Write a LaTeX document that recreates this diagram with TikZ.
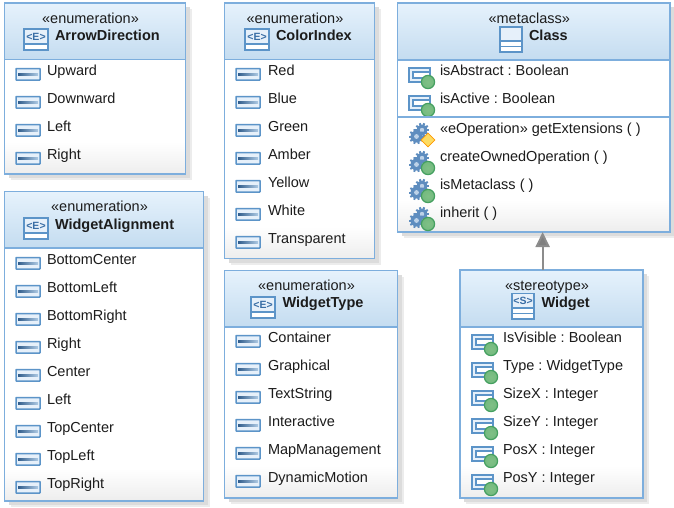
\documentclass[tikz,border=0pt]{standalone}
\usepackage{fontspec}
\setmainfont{Liberation Sans}
\usetikzlibrary{arrows.meta,calc,shapes.geometric}
\frenchspacing
\definecolor{edgeblue}{HTML}{7DAEDD}
\definecolor{headtop}{HTML}{E6F2FC}
\definecolor{headbot}{HTML}{C4DCF0}
\definecolor{iconblue}{HTML}{5C94C8}
\definecolor{iconfill}{HTML}{E6F0FA}
\definecolor{iconink}{HTML}{3A6EA5}
\definecolor{ink}{HTML}{1C1C1C}
\definecolor{ballfill}{HTML}{7FC086}
\definecolor{balledge}{HTML}{45A060}
\definecolor{gearblue}{HTML}{5E8DBF}
\definecolor{shadowgrey}{HTML}{DCDCDC}
\tikzset{
  x=1pt,y=-1pt,
  labeltext/.style={anchor=base west,inner sep=0pt,outer sep=0pt,text=ink,font=\fontsize{14.5}{17}\selectfont},
  stereotext/.style={anchor=base,inner sep=0pt,outer sep=0pt,text=ink,font=\fontsize{14.5}{17}\selectfont},
  titletext/.style={anchor=base west,inner sep=0pt,outer sep=0pt,text=ink,font=\fontsize{14.5}{17}\selectfont\bfseries},
  boxframe/.style={draw=edgeblue,line width=1.5pt,inner sep=0pt,outer sep=0pt},
  iconbox/.style={draw=iconblue,line width=1.5pt,fill=iconfill},
  glyph/.style={inner sep=0pt,outer sep=0pt,text=iconink,font=\fontsize{10.5}{11}\selectfont\bfseries},
  genarrow/.style={draw=black!45,line width=2pt,-{Triangle[length=15pt,width=14pt,fill=black!50]}},
}
% name, x1, y1, x2, header bottom, y2, stereotype
\newcommand{\umlbox}[7]{%
  \pgfmathsetmacro{\cxx}{(#2+#4)/2}\pgfmathsetmacro{\cyy}{(#3+#6)/2}%
  \pgfmathsetmacro{\www}{#4-#2}\pgfmathsetmacro{\hhh}{#6-#3}%
  \fill[shadowgrey!55] (#2+6,#3+6) rectangle (#4+6,#6+6);
  \fill[shadowgrey] (#2+4,#3+4) rectangle (#4+4,#6+4);
  \fill[white] (#2,#3) rectangle (#4,#6);
  \shade[top color=white,bottom color=black!7] (#2,#6-32) rectangle (#4,#6);
  \shade[top color=headtop,bottom color=headbot] (#2,#3) rectangle (#4,#5);
  \draw[edgeblue,line width=1.2pt] (#2,#5) -- (#4,#5);
  \node[boxframe,minimum width=\www pt,minimum height=\hhh pt] (#1) at (\cxx,\cyy) {};
  \node[stereotext] (#1-st) at (\cxx-4.5,#3+20) {#7};
}
% box, icon x, y top, glyph
\newcommand{\enumicon}[4]{%
  \draw[iconbox] (#2,#3) rectangle (#2+24,#3+21);
  \draw[iconblue,line width=1.3pt,fill=white] (#2,#3+15) rectangle (#2+24,#3+21);
  \node[glyph] (#1-ic) at (#2+12,#3+7.5) {<#4>};
}
\newcommand{\litrows}[5]{% box, icon x, text x, first y, list
  \foreach \lbl [count=\i from 0] in {#5} {
    \pgfmathsetmacro{\ry}{#4+28*\i}
    \draw[iconbox,rounded corners=0.5pt] (#2,\ry-1.5) rectangle (#2+24,\ry+10);
    \shade[left color=iconink!85!black,right color=iconblue!50] (#2+2,\ry+3) rectangle (#2+22,\ry+5.5);
    \node[labeltext] (#1-\i) at (#3,\ry+5) {\lbl};
  }
}
\newcommand{\ballmark}[2]{%
  \shade[inner color=ballfill,outer color=ballfill!80!balledge] (#1,#2) circle[radius=6.6];
  \draw[balledge,line width=1.2pt] (#1,#2) circle[radius=6.6];
}
\newcommand{\attrrows}[6]{% box, icon x, text x, first y, step, list
  \foreach \lbl [count=\i from 0] in {#6} {
    \pgfmathsetmacro{\ry}{#4+#5*\i}
    \draw[iconblue,line width=1.5pt,fill=iconfill] (#2,\ry-2) rectangle (#2+21,\ry+12);
    \draw[iconblue,line width=1.2pt,fill=white] (#2+4,\ry+2) rectangle (#2+21,\ry+8);
    \ballmark{#2+19}{\ry+12}
    \node[labeltext] (#1-\i) at (#3,\ry+5) {\lbl};
  }
}
\newcommand{\gearshape}[3]{% x, y, r
  \foreach \a in {0,36,...,324} {
    \draw[gearblue,line width=2pt] ($(#1,#2)+(\a:#3-1)$) -- ($(#1,#2)+(\a:#3+1.6)$);
  }
  \fill[gearblue] (#1,#2) circle[radius=#3];
  \fill[iconfill!70!gearblue] (#1,#2) circle[radius=#3*0.4];
}
\newcommand{\oprow}[5]{% box-index, icon x, text x, y, text
  \gearshape{#2+13}{#4+2}{5.5}
  \gearshape{#2+7.5}{#4+8.5}{6}
  \node[labeltext] (#1) at (#3,#4+5) {#5};
}
\begin{document}
\begin{tikzpicture}
\useasboundingbox (0,0) rectangle (674,507);
% ArrowDirection
\umlbox{arrowdir}{4.5}{3}{185.5}{59.5}{174}{«enumeration»}
\enumicon{arrowdir}{24}{29}{E}
\node[titletext] (arrowdir-t) at (55,40) {ArrowDirection};
\litrows{arrowdir}{16}{47}{70}{Upward,Downward,Left,Right}
% WidgetAlignment
\umlbox{align}{4.5}{191.5}{203.5}{248}{501}{«enumeration»}
\enumicon{align}{24}{218}{E}
\node[titletext] (align-t) at (55,229) {WidgetAlignment};
\litrows{align}{16}{47}{259}{BottomCenter,BottomLeft,BottomRight,Right,Center,Left,TopCenter,TopLeft,TopRight}
% ColorIndex
\umlbox{color}{224.5}{3}{374.5}{59.5}{258.5}{«enumeration»}
\enumicon{color}{245}{29}{E}
\node[titletext] (color-t) at (276,40) {ColorIndex};
\litrows{color}{236}{268}{70}{Red,Blue,Green,Amber,Yellow,White,Transparent}
% WidgetType
\umlbox{wtype}{224.5}{270.5}{397.5}{327}{498}{«enumeration»}
\enumicon{wtype}{251}{297}{E}
\node[titletext] (wtype-t) at (282.5,307) {WidgetType};
\litrows{wtype}{236}{268}{337}{Container,Graphical,TextString,Interactive,MapManagement,DynamicMotion}
% Class
\umlbox{class}{397.5}{3}{670}{60}{232}{«metaclass»}
\draw[iconbox] (500,27) rectangle (522,52);
\draw[iconblue,line width=1.3pt,fill=white] (500,41) rectangle (522,46.5);
\draw[iconblue,line width=1.3pt,fill=white] (500,46.5) rectangle (522,52);
\node[titletext] (class-t) at (529,40) {Class};
\attrrows{class}{409}{440}{70}{28}{isAbstract : Boolean,isActive : Boolean}
\draw[edgeblue,line width=1.2pt] (class.west |- 0,117) -- (class.east |- 0,117);
\oprow{class-op0}{409}{440}{128}{«eOperation» getExtensions ( )}
\node[diamond,draw=orange!80!yellow,line width=0.8pt,fill=yellow!60!orange!60,minimum width=14pt,minimum height=14pt,inner sep=0pt] (class-dm) at (428,140) {};
\oprow{class-op1}{409}{440}{156}{createOwnedOperation ( )}
\ballmark{428}{168}
\oprow{class-op2}{409}{440}{184}{isMetaclass ( )}
\ballmark{428}{196}
\oprow{class-op3}{409}{440}{212}{inherit ( )}
\ballmark{428}{224}
% Widget
\umlbox{widget}{460}{270}{643}{327}{498}{«stereotype»}
\draw[iconbox] (512,293.5) rectangle (534,319);
\draw[iconblue,line width=1.3pt,fill=white] (512,308) rectangle (534,313.5);
\draw[iconblue,line width=1.3pt,fill=white] (512,313.5) rectangle (534,319);
\node[glyph] (widget-ic) at (523,301) {<S>};
\node[titletext] (widget-t) at (541.5,307) {Widget};
\attrrows{widget}{472}{503}{337}{28}{IsVisible : Boolean,Type : WidgetType,SizeX : Integer,SizeY : Integer,PosX : Integer,PosY : Integer}
% generalization
\coordinate (mid) at ($(class.south)!0.5!(widget.north)$);
\draw[genarrow] (mid |- widget.north) -- (mid |- class.south);
\end{tikzpicture}
\end{document}
